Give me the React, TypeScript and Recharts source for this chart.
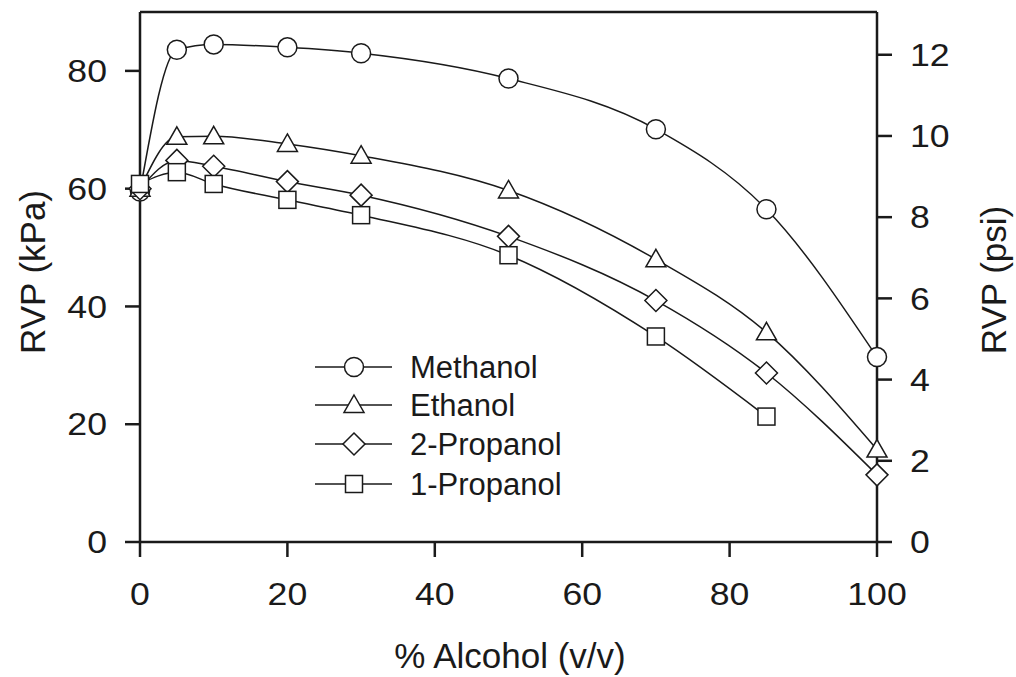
import React from "react";
import { LineChart, Line, XAxis, YAxis, ReferenceLine, Label } from "recharts";

const alcoholPct = [0, 5, 10, 20, 30, 50, 70, 85, 100];
const methanol = [59.5, 83.6, 84.5, 84.0, 83.0, 78.7, 70.1, 56.5, 31.4];
const ethanol = [60.0, 68.8, 68.9, 67.6, 65.6, 59.7, 48.0, 35.6, 15.7];
const propanol2 = [60.0, 64.8, 63.8, 61.2, 58.9, 51.9, 41.0, 28.7, 11.4];
const propanol1 = [60.8, 62.8, 60.8, 58.1, 55.5, 48.7, 34.9, 21.3, null];

const xTicks = [0, 20, 40, 60, 80, 100];
const kpaTicks = [0, 20, 40, 60, 80];
const psiTicks = [0, 2, 4, 6, 8, 10, 12];
const KPA_PER_PSI = 6.895;
const KPA_MAX = 90;

const seriesNames = ["Methanol", "Ethanol", "2-Propanol", "1-Propanol"];
const seriesKeys = ["methanol", "ethanol", "propanol2", "propanol1"];
const seriesShapes = ["circle", "triangle", "diamond", "square"];

const data = alcoholPct.map((x, i) => ({
  x,
  methanol: methanol[i],
  ethanol: ethanol[i],
  propanol2: propanol2[i],
  propanol1: propanol1[i],
}));

const FONT = "'Liberation Sans', Arial, Helvetica, sans-serif";
const INK = "#1a1a1a";

function MarkerShape({ shape, cx, cy }: { shape: string; cx: number; cy: number }) {
  const common = { fill: "#fff", stroke: INK, strokeWidth: 1.5 };
  if (shape === "circle") return <circle cx={cx} cy={cy} r={9.5} {...common} />;
  if (shape === "triangle")
    return <polygon points={`${cx},${cy - 10} ${cx + 10},${cy + 7.5} ${cx - 10},${cy + 7.5}`} {...common} />;
  if (shape === "diamond")
    return <polygon points={`${cx},${cy - 11} ${cx + 11},${cy} ${cx},${cy + 11} ${cx - 11},${cy}`} {...common} />;
  return <rect x={cx - 8.5} y={cy - 8.5} width={17} height={17} {...common} />;
}

const makeDot = (shape: string) => (props: any) => {
  const { cx, cy, index } = props;
  if (cx == null || cy == null || props.value == null) return <g key={`d-${shape}-${index}`} />;
  return (
    <g key={`d-${shape}-${index}`}>
      <MarkerShape shape={shape} cx={cx} cy={cy} />
    </g>
  );
};

const XTick = (props: any) => {
  const { x, y, payload } = props;
  return (
    <g transform={`translate(${x},${y})`}>
      <text transform="scale(1.15,1)" textAnchor="middle" dy="0.71em" fontSize={31} fontFamily={FONT} fill={INK}>
        {payload.value}
      </text>
    </g>
  );
};

const YTickLeft = (props: any) => {
  const { x, y, payload } = props;
  return (
    <g transform={`translate(${x},${y})`}>
      <text transform="scale(1.15,1)" textAnchor="end" dy="0.36em" fontSize={31} fontFamily={FONT} fill={INK}>
        {payload.value}
      </text>
    </g>
  );
};

const YTickRight = (props: any) => {
  const { x, y, payload } = props;
  return (
    <g transform={`translate(${x},${y})`}>
      <text transform="scale(1.15,1)" textAnchor="start" dy="0.36em" fontSize={31} fontFamily={FONT} fill={INK}>
        {payload.value}
      </text>
    </g>
  );
};

const Legendary = () => {
  const rowY = [367, 405, 444, 484];
  return (
    <svg width={1016} height={677} style={{ position: "absolute", left: 0, top: 0, pointerEvents: "none" }}>
      {seriesNames.map((name, i) => (
        <g key={name}>
          <line x1={315} x2={392} y1={rowY[i]} y2={rowY[i]} stroke={INK} strokeWidth={1.5} />
          <MarkerShape shape={seriesShapes[i]} cx={354} cy={rowY[i]} />
          <text x={410} y={rowY[i]} dy="0.36em" fontSize={31} fontFamily={FONT} fill={INK}>
            {name}
          </text>
        </g>
      ))}
    </svg>
  );
};

export default function App() {
  return (
    <div style={{ position: "absolute", left: 0, top: 0, width: 1016, height: 677, background: "#fff" }}>
      <LineChart width={1016} height={677} data={data} margin={{ top: 12, right: 0, left: 0, bottom: 0 }}>
        <XAxis
          dataKey="x"
          type="number"
          domain={[0, 100]}
          ticks={xTicks}
          height={135}
          tickSize={15}
          tickMargin={26}
          tick={<XTick />}
          axisLine={{ stroke: INK, strokeWidth: 2.5 }}
          tickLine={{ stroke: INK, strokeWidth: 2.5 }}
        >
          <Label
            content={() => (
              <text x={510} y={668} textAnchor="middle" fontSize={35} fontFamily={FONT} fill={INK}>
                % Alcohol (v/v)
              </text>
            )}
          />
        </XAxis>
        <YAxis
          yAxisId="left"
          type="number"
          domain={[0, KPA_MAX]}
          ticks={kpaTicks}
          width={140}
          tickSize={15}
          tickMargin={18}
          tick={<YTickLeft />}
          axisLine={{ stroke: INK, strokeWidth: 2.5 }}
          tickLine={{ stroke: INK, strokeWidth: 2.5 }}
        >
          <Label
            content={() => (
              <text
                x={32}
                y={272}
                transform="rotate(-90, 32, 272)"
                textAnchor="middle"
                dy="0.36em"
                fontSize={35}
                fontFamily={FONT}
                fill={INK}
              >
                RVP (kPa)
              </text>
            )}
          />
        </YAxis>
        <YAxis
          yAxisId="right"
          orientation="right"
          type="number"
          domain={[0, KPA_MAX / KPA_PER_PSI]}
          ticks={psiTicks}
          width={139}
          tickSize={15}
          tickMargin={18}
          tick={<YTickRight />}
          axisLine={{ stroke: INK, strokeWidth: 2.5 }}
          tickLine={{ stroke: INK, strokeWidth: 2.5 }}
          allowDataOverflow
        >
          <Label
            content={() => (
              <text
                x={993}
                y={280}
                transform="rotate(-90, 993, 280)"
                textAnchor="middle"
                dy="0.36em"
                fontSize={35}
                fontFamily={FONT}
                fill={INK}
              >
                RVP (psi)
              </text>
            )}
          />
        </YAxis>
        <ReferenceLine yAxisId="left" y={KPA_MAX} stroke={INK} strokeWidth={2.5} />
        {seriesKeys.map((k, i) => (
          <Line
            key={k}
            yAxisId="left"
            dataKey={k}
            type="monotone"
            stroke={INK}
            strokeWidth={1.5}
            dot={makeDot(seriesShapes[i])}
            activeDot={false}
            isAnimationActive={false}
            connectNulls={false}
          />
        ))}
      </LineChart>
      <Legendary />
    </div>
  );
}
